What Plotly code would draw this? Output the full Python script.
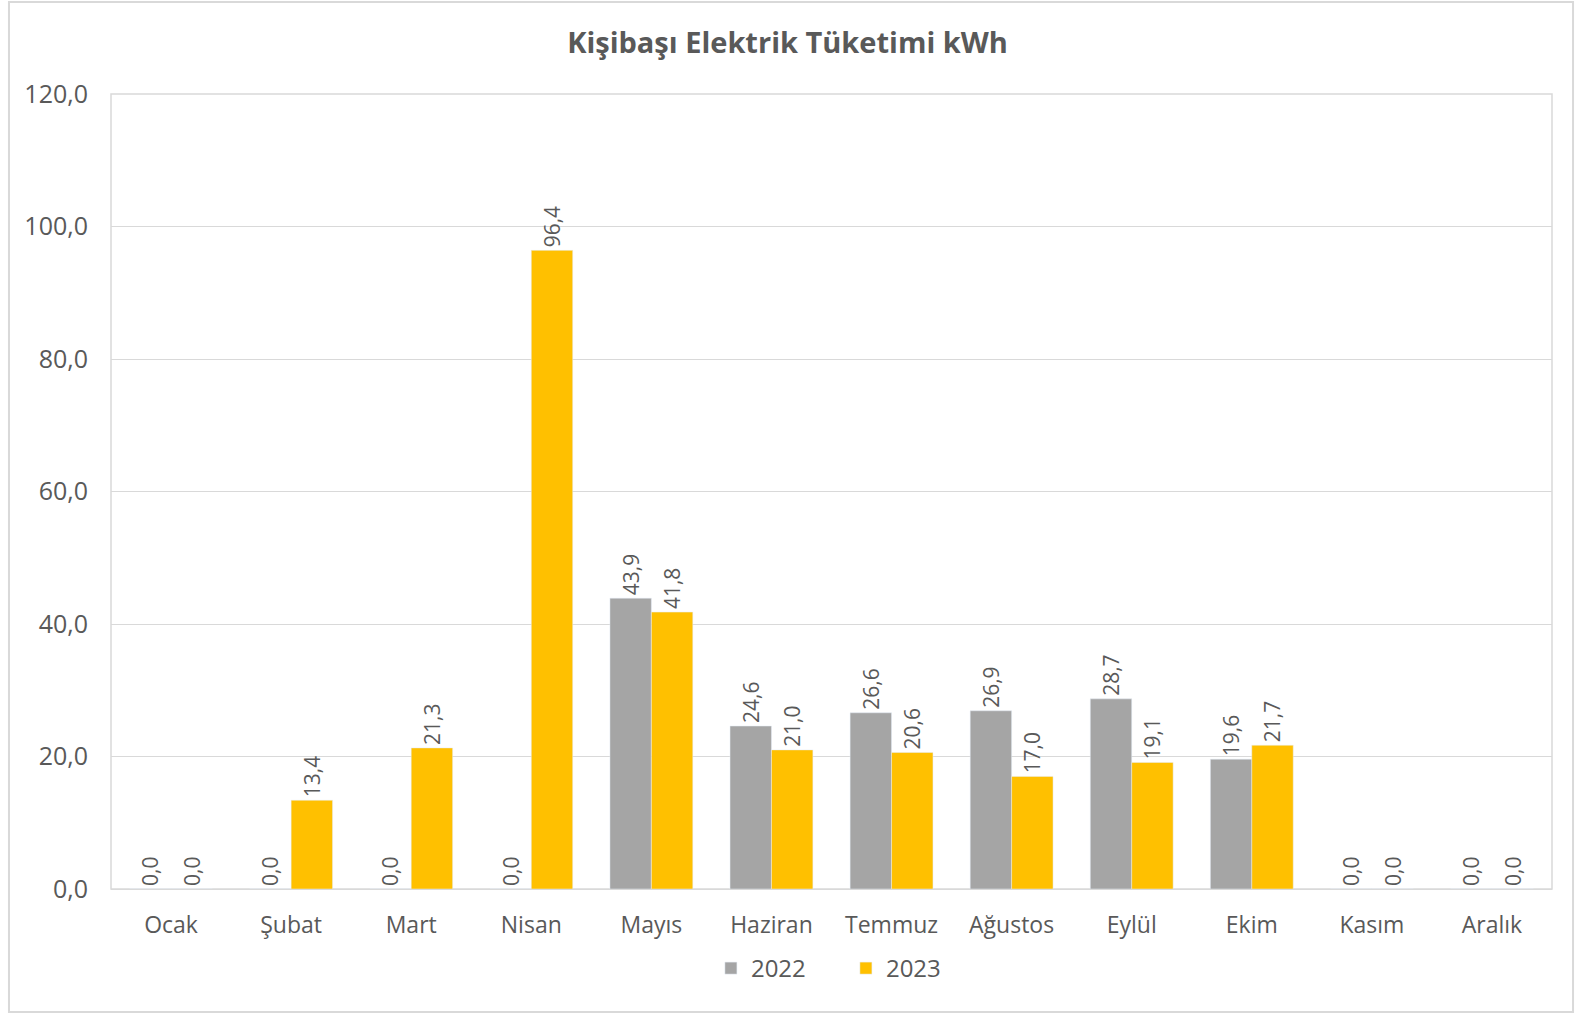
import plotly.graph_objects as go

months = ['Ocak', 'Şubat', 'Mart', 'Nisan', 'Mayıs', 'Haziran', 'Temmuz',
          'Ağustos', 'Eylül', 'Ekim', 'Kasım', 'Aralık']
y2022 = [0.0, 0.0, 0.0, 0.0, 43.9, 24.6, 26.6, 26.9, 28.7, 19.6, 0.0, 0.0]
y2023 = [0.0, 13.4, 21.3, 96.4, 41.8, 21.0, 20.6, 17.0, 19.1, 21.7, 0.0, 0.0]

font_name = 'Open Sans'
txt_color = '#595959'

fig = go.Figure()
fig.add_trace(go.Bar(
    x=months, y=y2022, name='2022',
    marker=dict(color='#A5A5A5'),
    texttemplate='%{y:.1f}', textposition='outside', textangle=-90,
    textfont=dict(size=21, color=txt_color, family=font_name),
    cliponaxis=False
))
fig.add_trace(go.Bar(
    x=months, y=y2023, name='2023',
    marker=dict(color='#FFC000'),
    texttemplate='%{y:.1f}', textposition='outside', textangle=-90,
    textfont=dict(size=21, color=txt_color, family=font_name),
    cliponaxis=False
))

fig.update_layout(
    width=1575, height=1014,
    margin=dict(l=111, r=23, t=94, b=125, autoexpand=False),
    paper_bgcolor='white', plot_bgcolor='white',
    separators=',.',
    barmode='group', bargap=0.31, bargroupgap=0,
    font=dict(family=font_name, color=txt_color, size=22),
    title=dict(text='<b>Kişibaşı Elektrik Tüketimi kWh</b>', x=0.5, xanchor='center',
               y=0.958, yanchor='middle', font=dict(size=29, color=txt_color)),
    legend=dict(orientation='h', x=0.51, xanchor='center', y=-0.1, yanchor='middle',
                font=dict(size=24, color=txt_color), itemwidth=30,
                entrywidth=90, entrywidthmode='pixels'),
    xaxis=dict(showline=False, ticks='', tickfont=dict(size=23, color=txt_color),
               showgrid=False, automargin=False, ticklabelstandoff=20),
    yaxis=dict(range=[0, 120], dtick=20, tickformat='.1f', showgrid=True,
               gridcolor='#D9D9D9', gridwidth=1, zeroline=True, zerolinecolor='#D9D9D9',
               zerolinewidth=1, tickfont=dict(size=25, color=txt_color), ticks='',
               ticklabelstandoff=22, automargin=False),
    shapes=[
        dict(type='rect', xref='paper', yref='paper', x0=0, x1=1, y0=0, y1=1,
             line=dict(color='#D9D9D9', width=1.5), fillcolor='rgba(0,0,0,0)', layer='below'),
        dict(type='rect', xref='paper', yref='paper', x0=-0.0708, x1=1.0146,
             y0=-0.1547, y1=1.1157, line=dict(color='#D9D9D9', width=2),
             fillcolor='rgba(0,0,0,0)', layer='below'),
    ],
)

# drop the browser's default 8px body margin so the figure sits at the page corner
fig.write_html('out.html', config={'displayModeBar': False},
               post_script="document.body.style.margin='0';")
